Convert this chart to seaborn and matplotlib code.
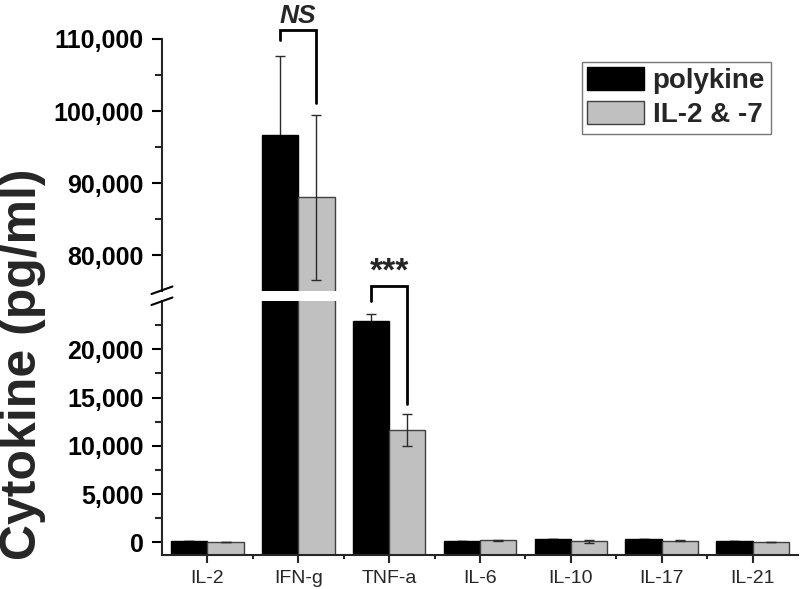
import numpy as np
import pandas as pd
import matplotlib
matplotlib.use("Agg")
import matplotlib.pyplot as plt
import seaborn as sns
from matplotlib.patches import Patch
from matplotlib.lines import Line2D
from matplotlib.ticker import FuncFormatter

# --- data ---
cytokines = ["IL-2", "IFN-g", "TNF-a", "IL-6", "IL-10", "IL-17", "IL-21"]
groups = ["polykine", "IL-2 & -7"]
polykine_mean = [160, 96700, 22900, 160, 370, 340, 130]
polykine_sd = [30, 11000, 750, 20, 30, 30, 20]
il27_mean = [10, 88000, 11650, 230, 100, 170, 20]
il27_sd = [10, 11500, 1650, 30, 200, 60, 10]

# significance annotations: (cytokine index, label, bracket top, left leg end, right leg end)
ns_bracket = (1, "NS", 111200, 109800, 101100)
star_bracket = (2, "***", 26600, 25000, 14300)

colors = ["#000000", "#c0c0c0"]
edges = ["#000000", "#404040"]

df = pd.DataFrame({
    "cytokine": cytokines * 2,
    "group": [groups[0]] * 7 + [groups[1]] * 7,
    "value": polykine_mean + il27_mean,
})
sds = [polykine_sd, il27_sd]

sns.set_style("ticks")
plt.rcParams["font.family"] = ["Liberation Sans", "DejaVu Sans"]

fig = plt.figure(figsize=(8, 5.89), dpi=100)
ax_top = fig.add_axes([0.2025, 0.5059, 0.795, 0.4279])
ax_bot = fig.add_axes([0.2025, 0.0577, 0.795, 0.4312])

top_lim = (75000, 110000)
bot_lim = (-1300, 25000)

for ax in (ax_top, ax_bot):
    sns.barplot(data=df, x="cytokine", y="value", hue="group", order=cytokines,
                hue_order=groups, palette=colors, width=0.8, legend=False,
                saturation=1, errorbar=None, ax=ax)
    # bars: first 7 polykine, then 7 IL-2 & -7
    for i, p in enumerate(ax.patches):
        p.set_edgecolor(edges[i // 7])
        p.set_linewidth(1)
        p.set_zorder(2)
    bars = list(ax.patches)
    for k in range(2):
        grp = bars[k * 7:(k + 1) * 7]
        xs = [p.get_x() + p.get_width() / 2 for p in grp]
        ys = [p.get_height() for p in grp]
        # black bars hide the lower half of their error bars
        ax.errorbar(xs, ys, yerr=sds[k], fmt="none", ecolor="#2a2a2a", elinewidth=1,
                    capsize=3.6, capthick=1, zorder=1 if k == 0 else 5)
    ax.set_xlim(-0.5, 6.5)
    ax.set_xlabel("")
    ax.set_ylabel("")
    for s in ["top", "right"]:
        ax.spines[s].set_visible(False)
    ax.spines["left"].set_linewidth(1.5)
    ax.spines["bottom"].set_linewidth(1.5)

ax_top.set_ylim(*top_lim)
ax_bot.set_ylim(*bot_lim)

# bottom panel bars start at the axis floor, as in the original
for p in ax_bot.patches:
    h = p.get_height()
    p.set_y(bot_lim[0])
    p.set_height(h - bot_lim[0])

fmt = FuncFormatter(lambda v, pos: f"{int(v):,}")
ax_top.set_yticks([80000, 90000, 100000, 110000])
ax_top.set_yticks([85000, 95000, 105000], minor=True)
ax_bot.set_yticks([0, 5000, 10000, 15000, 20000])
ax_bot.set_yticks([2500, 7500, 12500, 17500, 22500], minor=True)
for ax in (ax_top, ax_bot):
    ax.yaxis.set_major_formatter(fmt)
    ax.tick_params(axis="y", which="major", length=7, width=1.5, pad=6,
                   labelsize=18, colors="black")
    ax.tick_params(axis="y", which="minor", length=5, width=1.5)
    for lab in ax.get_yticklabels():
        lab.set_fontweight("bold")

ax_top.spines["bottom"].set_visible(False)
ax_top.tick_params(axis="x", which="both", bottom=False, labelbottom=False)

ax_bot.set_xticks(range(len(cytokines)))
ax_bot.set_xticklabels(cytokines)
ax_bot.set_xticks([0.5, 1.5, 2.5, 3.5, 4.5, 5.5], minor=True)
ax_bot.tick_params(axis="x", which="major", length=6, width=1.5, pad=5, labelsize=14)
ax_bot.tick_params(axis="x", which="minor", length=3, width=1.5)

# axis break marks on the left spine
fx = lambda px: px / 800
fy = lambda py: 1 - py / 589
for y0 in (294, 305):
    fig.add_artist(Line2D([fx(151.5), fx(172.5)], [fy(y0), fy(y0 - 7.5)],
                          color="black", lw=1.5))

# significance brackets
def bracket(ax, spec, fontsize, style, text_off):
    i, label, top, yl, yr = spec
    x1, x2 = i - 0.2, i + 0.2
    ax.plot([x1, x1, x2, x2], [yl, top, top, yr], color="black", lw=2,
            clip_on=False, zorder=6, solid_joinstyle="miter")
    ax.text(i, top + text_off, label, ha="center", va="bottom", fontsize=fontsize,
            fontweight="bold", fontstyle=style, clip_on=False)

bracket(ax_top, ns_bracket, 19, "italic", 300)
bracket(ax_bot, star_bracket, 24, "normal", -200)

fig.text(0.029, 1 - 364 / 589, "Cytokine (pg/ml)", rotation=90, ha="center",
         va="center", fontsize=36, fontweight="bold")

handles = [Patch(facecolor=colors[k], edgecolor=edges[k], lw=1) for k in range(2)]
leg = ax_top.legend(handles, groups, loc="upper left", bbox_to_anchor=(0.66, 0.909),
                    borderaxespad=0, fontsize=20, frameon=True, fancybox=False,
                    handlelength=2.05, handleheight=0.86, handletextpad=0.3,
                    labelspacing=0.25, borderpad=0.2)
leg.get_frame().set_edgecolor("#555555")
leg.get_frame().set_linewidth(1)
for t in leg.get_texts():
    t.set_fontweight("bold")

fig.savefig("out.png", dpi=100)
